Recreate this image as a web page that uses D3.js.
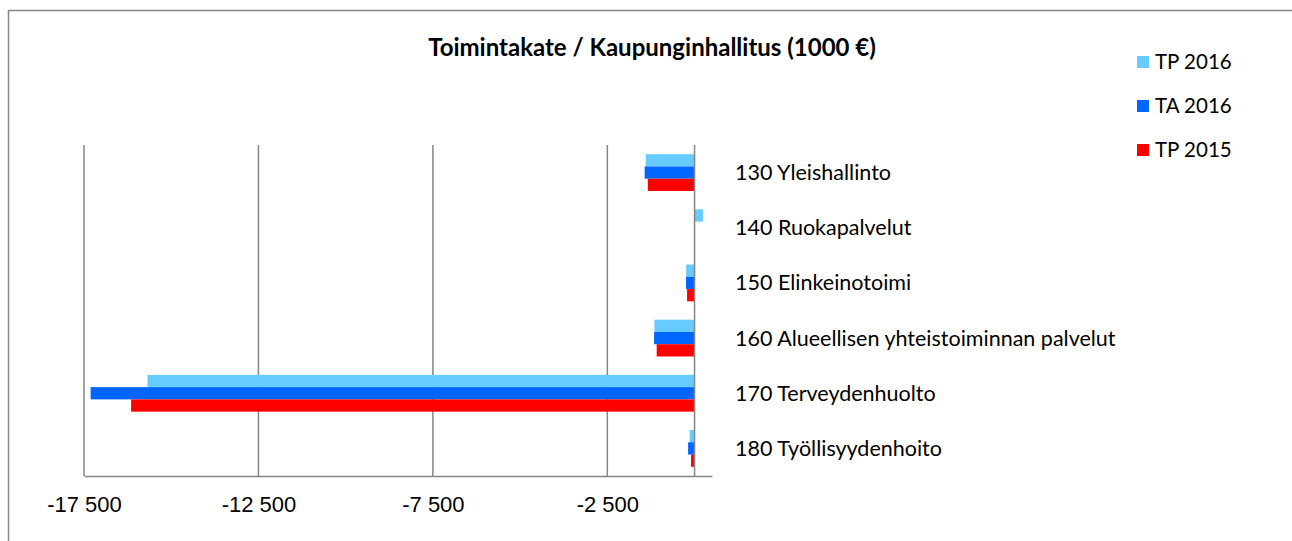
<!DOCTYPE html>
<html>
  <head>
    <meta charset="utf-8">
    <title>Toimintakate / Kaupunginhallitus</title>
    <script src="https://cdn.jsdelivr.net/npm/d3@7"></script>
    <style>
      body { margin: 0; background: #fff; }
      svg { display: block; font-family: Lato, "Open Sans", sans-serif; }
      .grid line, .axis path { stroke: #868686; stroke-width: 1.5; }
    </style>
  </head>
  <body>
    <div id="chart"></div>
    <script>
      // data
      var categories = ["130 Yleishallinto", "140 Ruokapalvelut", "150 Elinkeinotoimi",
        "160 Alueellisen yhteistoiminnan palvelut", "170 Terveydenhuolto", "180 Työllisyydenhoito"];
      var seriesNames = ["TP 2016", "TA 2016", "TP 2015"];
      var tp2016 = [-1400, 240, -240, -1150, -15680, -140];
      var ta2016 = [-1430, 0, -245, -1160, -17310, -185];
      var tp2015 = [-1340, 0, -215, -1085, -16150, -100];
      var tickValues = [-17500, -12500, -7500, -2500];
      var colors = ["#66ccff", "#0066ff", "#ff0000"];

      var seriesValues = [tp2016, ta2016, tp2015];
      var width = 1292, height = 541;

      var svg = d3.select("#chart").append("svg")
        .attr("width", width)
        .attr("height", height);

      // outer frame (cut off at right and bottom like the original)
      svg.append("rect")
        .attr("x", 8.5).attr("y", 10.5)
        .attr("width", width).attr("height", height)
        .attr("fill", "none")
        .attr("stroke", "#868686")
        .attr("stroke-width", 1.5);

      var x = d3.scaleLinear().domain([-17500, 500]).range([84, 712]);
      var y = d3.scaleBand().domain(categories).range([145, 476])
        .paddingInner(1 / 3).paddingOuter(1 / 6);
      var ySub = d3.scaleBand().domain(seriesNames).range([0, y.bandwidth()]);

      // vertical gridlines
      svg.append("g").attr("class", "grid")
        .selectAll("line")
          .data(tickValues)
        .enter().append("line")
          .attr("x1", function(d) { return x(d); })
          .attr("x2", function(d) { return x(d); })
          .attr("y1", 145).attr("y2", 476);

      // bars
      seriesNames.forEach(function(s, si) {
        svg.append("g")
          .attr("fill", colors[si])
          .selectAll("rect")
            .data(seriesValues[si])
          .enter().append("rect")
            .attr("x", function(d) { return x(Math.min(0, d)); })
            .attr("width", function(d) { return Math.abs(x(d) - x(0)); })
            .attr("y", function(d, i) { return y(categories[i]) + ySub(s); })
            .attr("height", ySub.bandwidth());
      });

      // category axis at zero
      svg.append("line")
        .attr("x1", x(0)).attr("x2", x(0))
        .attr("y1", 145).attr("y2", 476)
        .attr("stroke", "#868686")
        .attr("stroke-width", 1.5);

      // value axis
      var fmt = function(d) { return d3.format(",")(d).replace(/,/g, " ").replace("−", "-"); };
      var axis = svg.append("g").attr("class", "axis")
        .attr("transform", "translate(0,476)")
        .call(d3.axisBottom(x).tickValues(tickValues).tickSize(0).tickPadding(20).tickFormat(fmt));
      axis.selectAll("text")
        .attr("fill", "#000")
        .style("font-size", "22px");

      // category labels on the right
      svg.append("g")
        .selectAll("text")
          .data(categories)
        .enter().append("text")
          .attr("x", 735)
          .attr("y", function(d) { return y(d) + y.bandwidth() / 2; })
          .attr("dy", "0.35em")
          .style("font-size", "21.5px")
          .text(function(d) { return d; });

      // title
      svg.append("text")
        .attr("x", 652).attr("y", 56)
        .attr("text-anchor", "middle")
        .style("font-size", "24px")
        .style("font-weight", "bold")
        .text("Toimintakate / Kaupunginhallitus (1000 €)");

      // legend
      var legend = svg.append("g")
        .selectAll("g")
          .data(seriesNames)
        .enter().append("g")
          .attr("transform", function(d, i) { return "translate(1137," + (62 + i * 44) + ")"; });
      legend.append("rect")
        .attr("y", -6).attr("width", 12).attr("height", 12)
        .attr("fill", function(d, i) { return colors[i]; });
      legend.append("text")
        .attr("x", 18).attr("dy", "0.35em")
        .style("font-size", "20.5px")
        .text(function(d) { return d; });
    </script>
  </body>
</html>
